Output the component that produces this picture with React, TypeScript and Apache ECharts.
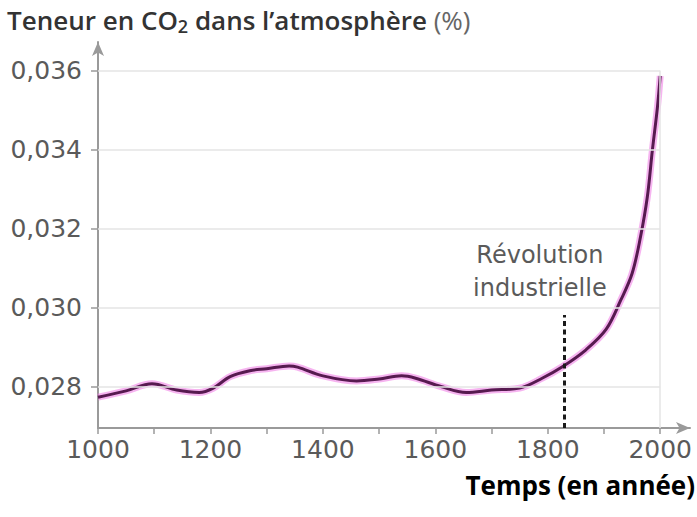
import React, { useEffect, useRef } from 'react';
import * as echarts from 'echarts';

const years = [1000, 1050, 1096, 1140, 1180, 1205, 1235, 1270, 1300, 1340, 1355, 1400, 1460, 1500, 1540, 1565, 1610, 1655, 1700, 1750, 1790, 1826, 1868, 1904, 1930, 1950, 1965, 1977, 1986, 1995, 2000];
const co2 = [0.02774, 0.0279, 0.02808, 0.02792, 0.02786, 0.02797, 0.02826, 0.02841, 0.02846, 0.02853, 0.0285, 0.02828, 0.02815, 0.0282, 0.02828, 0.02822, 0.02801, 0.02786, 0.02792, 0.02797, 0.02822, 0.02851, 0.02894, 0.02946, 0.0302, 0.03087, 0.0318, 0.0328, 0.03398, 0.03507, 0.03587];

const yTicks = [0.028, 0.03, 0.032, 0.034, 0.036];
const xLabels = [1000, 1200, 1400, 1600, 1800, 2000];
const xTicks = [1000, 1100, 1200, 1300, 1400, 1500, 1600, 1700, 1800, 1900, 2000];
const revolutionYear = 1830;
const revolutionTop = 0.02982;
const annotationText = 'Révolution\nindustrielle';
const annotationPos = [1786, 0.03091];
const titleText = '{b|Teneur en CO}{s|2}{b| dans l\u2019atmosphère }{n|(%)}';
const xName = 'Temps (en année)';

const Y_MIN = 0.02696;
const Y_MAX = 0.03673;
const X_MIN = 1000;
const X_MAX = 2053;

export default function App() {
  const ref = useRef<HTMLDivElement>(null);
  useEffect(() => {
    if (!ref.current) return;
    const chart = echarts.init(ref.current, null, { renderer: 'svg' });
    const data = years.map((y, i) => [y, co2[i]]);
    const labelFont = { fontFamily: 'DejaVu Sans', fontSize: 25, color: '#5a5a5a' };
    const gridLines: any[] = yTicks.map((v) => [
      { coord: [X_MIN, v] },
      { coord: [2000, v] },
    ]);
    gridLines.push([{ coord: [2000, Y_MIN] }, { coord: [2000, 0.036] }]);
    chart.setOption({
      animation: false,
      title: {
        left: 2,
        top: -1,
        text: titleText,
        textStyle: {
          rich: {
            b: { fontFamily: 'Open Sans', fontWeight: 600, fontSize: 26, color: '#333' },
            s: { fontFamily: 'Open Sans', fontWeight: 600, fontSize: 18, color: '#333', padding: [13, 0, 0, 0] },
            n: { fontFamily: 'Open Sans', fontWeight: 400, fontSize: 26, color: '#666' },
          },
        },
      },
      graphic: [
        {
          type: 'text',
          right: 2,
          top: 472,
          style: { text: xName, font: 'bold 26px "Open Sans"', fill: '#000' },
        },
      ],
      grid: { left: 98, right: 7, top: 42, bottom: 89 },
      xAxis: {
        type: 'value',
        min: X_MIN,
        max: X_MAX,
        axisLine: {
          show: true,
          symbol: ['none', 'arrow'],
          symbolSize: [9, 14],
          lineStyle: { color: '#9a9a9a', width: 2 },
        },
        axisTick: { show: true, customValues: xTicks, length: 6, lineStyle: { color: '#9a9a9a', width: 1.5 } },
        axisLabel: { ...labelFont, customValues: xLabels, margin: 9, formatter: (v: number) => String(v) },
        splitLine: { show: false },
      },
      yAxis: {
        type: 'value',
        min: Y_MIN,
        max: Y_MAX,
        axisLine: {
          show: true,
          symbol: ['none', 'arrow'],
          symbolSize: [9, 14],
          lineStyle: { color: '#9a9a9a', width: 2 },
        },
        axisTick: { show: true, customValues: yTicks, length: 7, lineStyle: { color: '#9a9a9a', width: 1.5 } },
        axisLabel: {
          ...labelFont,
          customValues: yTicks,
          margin: 16,
          formatter: (v: number) => v.toFixed(3).replace('.', ','),
        },
        splitLine: { show: false },
      },
      series: [
        {
          type: 'line',
          data,
          smooth: 0.35,
          symbol: 'none',
          silent: true,
          z: 1,
          lineStyle: { color: 'rgba(240,130,230,0.6)', width: 7 },
          markLine: {
            silent: true,
            symbol: ['none', 'none'],
            label: { show: false },
            lineStyle: { color: '#e4e4e4', width: 1.5, type: 'solid' },
            data: gridLines,
          },
        },
        {
          type: 'line',
          data,
          smooth: 0.35,
          symbol: 'none',
          silent: true,
          z: 3,
          lineStyle: { color: '#571a50', width: 3 },
          markLine: {
            silent: true,
            symbol: ['none', 'none'],
            label: { show: false },
            lineStyle: { color: '#1a1a1a', width: 3, type: [5, 3.5] },
            data: [[{ coord: [revolutionYear, Y_MIN] }, { coord: [revolutionYear, revolutionTop] }]],
          },
          markPoint: {
            silent: true,
            symbol: 'circle',
            symbolSize: 0,
            data: [{ coord: annotationPos }],
            label: {
              show: true,
              position: 'inside',
              formatter: annotationText,
              fontFamily: 'DejaVu Sans',
              fontSize: 24,
              lineHeight: 33,
              color: '#5a5a5a',
            },
          },
        },
      ],
    });
    return () => chart.dispose();
  }, []);
  return <div ref={ref} style={{ width: 697, height: 517, position: 'absolute', left: 0, top: 0 }} />;
}
